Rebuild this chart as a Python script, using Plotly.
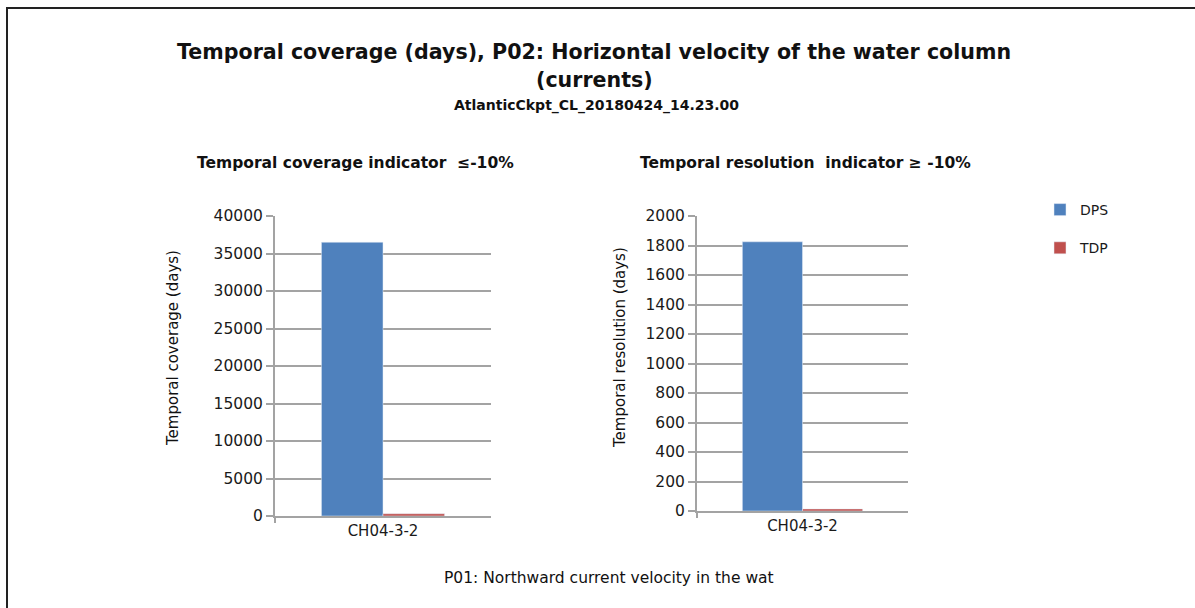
import plotly.graph_objects as go

W, H = 1195, 608

categories = ["CH04-3-2"]
series_names = ["DPS", "TDP"]
coverage_dps = [36500]
coverage_tdp = [300]
resolution_dps = [1825]
resolution_tdp = [14]
coverage_ticks = [0, 5000, 10000, 15000, 20000, 25000, 30000, 35000, 40000]
resolution_ticks = [0, 200, 400, 600, 800, 1000, 1200, 1400, 1600, 1800, 2000]

colors = {"DPS": "#4F81BD", "TDP": "#C0504D"}
FONT = "DejaVu Sans"

def px(x):
    return x / W

def py(y):
    return 1 - y / H

fig = go.Figure()

fig.add_trace(go.Bar(x=categories, y=coverage_dps, name=series_names[0], marker_color=colors["DPS"],
                     xaxis="x", yaxis="y", legendgroup="DPS", showlegend=True))
fig.add_trace(go.Bar(x=categories, y=coverage_tdp, name=series_names[1], marker_color=colors["TDP"],
                     xaxis="x", yaxis="y", legendgroup="TDP", showlegend=True))
fig.add_trace(go.Bar(x=categories, y=resolution_dps, name=series_names[0], marker_color=colors["DPS"],
                     xaxis="x2", yaxis="y2", legendgroup="DPS", showlegend=False))
fig.add_trace(go.Bar(x=categories, y=resolution_tdp, name=series_names[1], marker_color=colors["TDP"],
                     xaxis="x2", yaxis="y2", legendgroup="TDP", showlegend=False))

grid = "#A3A3A3"
tickfont = dict(family=FONT, size=15.5, color="#1a1a1a")
common_x = dict(showline=True, linecolor=grid, linewidth=2, ticks="outside", tickson="boundaries",
                ticklen=5, tickcolor=grid, tickwidth=2, showgrid=False, automargin=False,
                tickfont=dict(family=FONT, size=15, color="#1a1a1a"), fixedrange=True)
common_y = dict(showline=True, linecolor=grid, linewidth=2, ticks="outside", ticklen=7,
                tickcolor=grid, tickwidth=2, showgrid=True, gridcolor=grid, gridwidth=2,
                tickfont=tickfont, zeroline=False, tickformat="d", automargin=False)

fig.update_layout(
    width=W, height=H,
    margin=dict(l=0, r=0, t=0, b=0, autoexpand=False),
    paper_bgcolor="white", plot_bgcolor="white",
    barmode="group", bargap=0.43, bargroupgap=0,
    font=dict(family=FONT, color="#1a1a1a"),
    xaxis=dict(domain=[px(275), px(491)], anchor="y", **common_x),
    yaxis=dict(domain=[py(516), py(216)], anchor="x", range=[0, 40000], tickvals=coverage_ticks,
               **common_y),
    xaxis2=dict(domain=[px(697), px(908)], anchor="y2", **common_x),
    yaxis2=dict(domain=[py(511), py(216)], anchor="x2", range=[0, 2000], tickvals=resolution_ticks,
                **common_y),
    legend=dict(x=px(1040), y=py(194), xanchor="left", yanchor="top",
                font=dict(family=FONT, size=14), tracegroupgap=17, itemwidth=30,
                bgcolor="rgba(0,0,0,0)"),
    showlegend=True,
)

annotations = [
    dict(text="<b>Temporal coverage (days), P02: Horizontal velocity of the water column</b>",
         x=px(594), y=py(52), font=dict(size=20.6)),
    dict(text="<b>(currents)</b>", x=px(594), y=py(80), font=dict(size=20.6)),
    dict(text="<b>AtlanticCkpt_CL_20180424_14.23.00</b>", x=px(596), y=py(105), font=dict(size=14)),
    dict(text="<b>Temporal coverage indicator  ≤-10%</b>", x=px(355), y=py(163), font=dict(size=15.5)),
    dict(text="<b>Temporal resolution  indicator ≥ -10%</b>", x=px(805), y=py(163), font=dict(size=15.5)),
    dict(text="P01: Northward current velocity in the wat", x=px(609), y=py(578), font=dict(size=15.5)),
    dict(text="Temporal coverage (days)", x=px(173), y=py(348), font=dict(size=15), textangle=-90),
    dict(text="Temporal resolution (days)", x=px(620), y=py(348), font=dict(size=15), textangle=-90),
]
for a in annotations:
    a.update(xref="paper", yref="paper", showarrow=False, xanchor="center", yanchor="middle")
    a["font"] = dict(family=FONT, color="#111", **a["font"])
fig.update_layout(annotations=annotations)

fig.add_shape(type="rect", xref="paper", yref="paper", x0=px(7), x1=px(1210), y0=py(625), y1=py(8),
              line=dict(color="#222", width=2), layer="above")

fig.write_html("out.html", config={"displayModeBar": False},
               post_script="document.body.style.margin='0';")
